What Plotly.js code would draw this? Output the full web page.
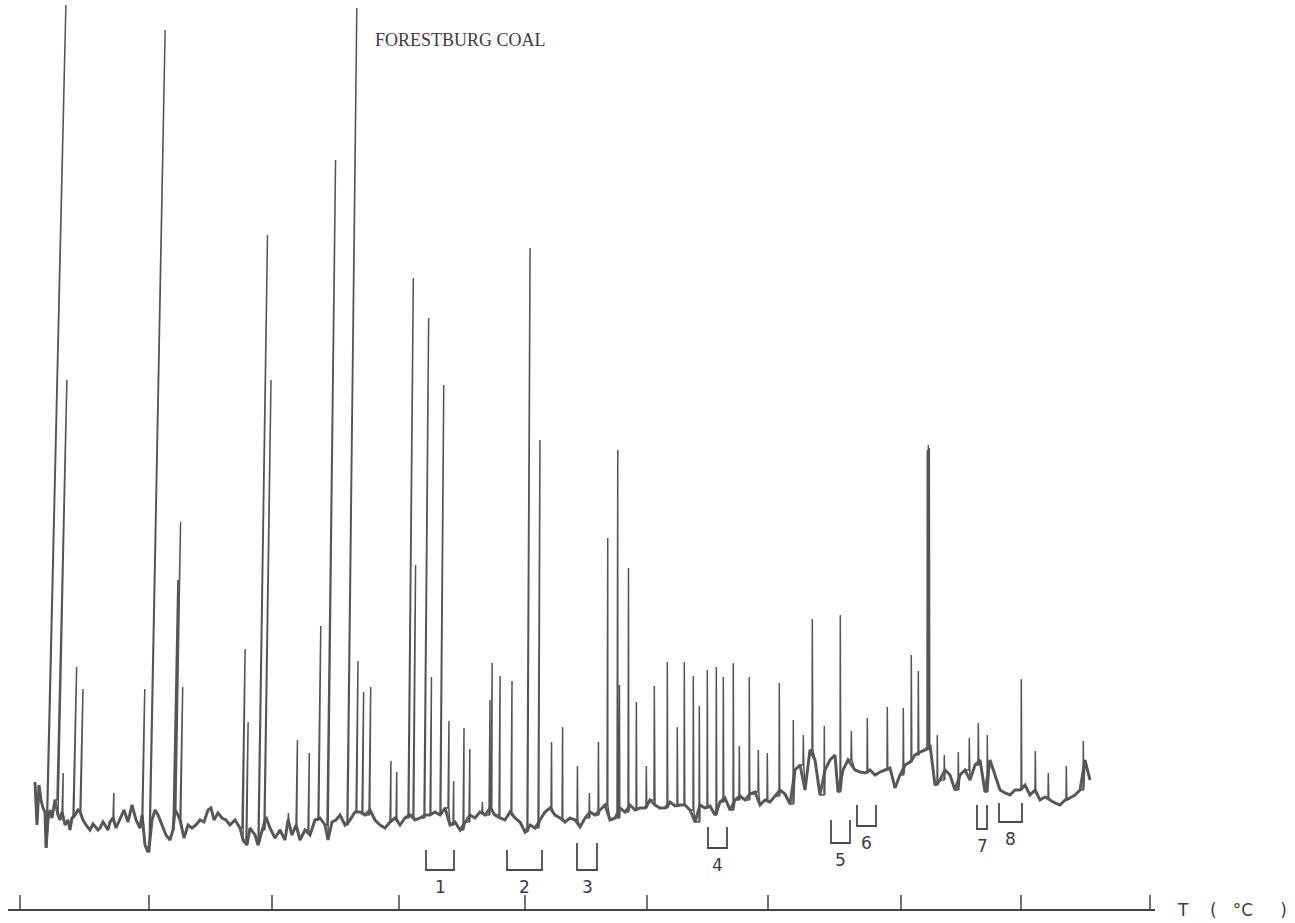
<!DOCTYPE html>
<html>
<head>
<meta charset="utf-8">
<script src="https://cdn.plot.ly/plotly-3.0.1.min.js"></script>
<style>html,body{margin:0;padding:0;background:#fff;}#chart{width:1295px;height:923px;}</style>
</head>
<body>
<div id="chart"></div>
<script>
// ---- DATA ----
const chartTitle = "FORESTBURG COAL";
const axisLabel = "T\u00A0\u00A0\u00A0\u00A0(\u00A0\u00A0\u00A0°C\u00A0\u00A0\u00A0\u00A0\u00A0)";
const tickPositions = [20, 149, 272, 399, 525, 647, 768, 901, 1021, 1150];

// baseline of the recorder trace: position and signal level
const baseX = [35,37,39,41,43,45,46,48,50,52,55,58,60,62,65,68,70,72,75,78,80,83,86,90,93,95,98,100,103,105,108,110,113,116,120,124,128,132,136,140,142,145,148,150,152,155,158,162,166,170,173,175,178,180,184,188,192,196,200,204,208,211,214,218,222,226,230,235,240,243,247,250,255,258,262,266,270,275,280,285,288,292,296,300,305,310,315,320,325,328,332,336,340,345,350,355,360,365,370,375,380,385,390,395,400,405,410,415,420,425,430,435,440,445,450,455,460,465,470,475,480,485,490,495,500,505,510,515,520,525,530,535,540,545,550,555,560,565,570,575,580,585,590,595,600,605,610,615,620,625,630,635,640,645,650,655,660,665,670,675,680,685,690,695,700,705,710,715,720,725,730,735,740,745,750,755,760,765,770,775,780,785,790,795,800,805,810,815,820,825,830,835,838,843,848,855,860,865,870,875,880,885,890,895,900,905,910,915,920,925,930,935,940,945,950,955,960,965,970,975,980,985,990,995,1000,1005,1010,1015,1020,1025,1030,1035,1040,1045,1050,1055,1060,1065,1070,1075,1080,1085,1090];
const baseSignal = [128,85,125,110,102,98,62,90,100,92,110,95,90,98,85,90,80,92,95,100,98,90,85,80,86,84,80,82,88,85,80,88,92,82,92,100,88,105,90,82,95,65,58,70,90,100,95,85,75,70,80,100,95,90,72,85,82,85,90,88,100,102,90,97,92,90,85,90,82,70,65,82,75,65,80,93,82,72,80,70,90,75,85,70,80,75,90,92,85,70,88,90,95,85,90,98,98,95,100,90,85,82,88,92,85,92,95,90,92,95,95,98,95,102,85,88,80,88,95,92,98,95,102,95,92,90,98,92,88,78,85,82,90,98,102,95,92,88,92,90,83,92,98,95,100,105,90,92,102,98,105,100,102,102,110,105,102,102,108,104,105,105,100,88,105,102,104,95,108,112,100,110,114,110,116,118,105,110,108,114,120,116,106,140,145,120,160,150,115,140,150,155,118,140,150,140,138,137,140,135,138,140,142,122,135,145,148,155,158,160,165,125,130,140,135,120,135,140,130,145,150,118,150,135,120,117,115,120,120,125,115,120,110,113,110,107,105,110,112,115,120,150,130];

// peaks: retention position and apex signal level
const peakX = [46,57,62,73,80,113,142,149,173,175,180,242,246,258,264,288,296,308,318,327,347,356,362,369,390,396,408,413,424,430,440,448,453,463,469,482,489,491,499,511,527,538,551,562,577,589,598,607,617,619,628,636,646,654,667,677,684,693,699,707,716,723,733,739,749,758,767,779,793,803,812,824,840,851,867,887,903,911,918,927,928,929,937,944,958,969,978,987,1021,1035,1048,1066,1083];
const peakHeight = [905,530,137,243,221,117,221,880,330,388,223,261,188,675,530,97,170,157,284,750,902,249,218,223,149,138,632,345,592,233,525,189,129,182,161,108,210,247,234,229,662,470,168,183,144,117,168,372,460,225,342,208,144,224,248,183,248,234,204,240,243,233,247,164,233,160,157,227,190,175,291,184,295,179,192,203,202,255,239,460,465,462,175,155,158,172,187,175,231,159,137,144,169];

// marked fractions
const fractionLabels = ["1","2","3","4","5","6","7","8"];
const fractionStart  = [426,507,577,708,831,857,977,999];
const fractionEnd    = [454,542,597,727,850,876,987,1022];
const fractionTop    = [60,60,67,83,90,105,105,107];
const fractionBottom = [40,40,40,62,67,84,81,88];

// ---- BUILD TRACE ----
const ink = "#555555";
function lean(x){ return Math.max(0, 0.025 * (1 - x / 650)); } // recorder pen skew
const tx = [], ty = [];
let p = 0;
for (let i = 0; i < baseX.length; i++) {
  tx.push(baseX[i]); ty.push(baseSignal[i]);
  const next = i + 1 < baseX.length ? baseX[i + 1] : Infinity;
  while (p < peakX.length && peakX[p] >= baseX[i] && peakX[p] < next) {
    const foot = baseSignal[i];
    const h = peakHeight[p] - foot;
    tx.push(peakX[p]); ty.push(foot);
    tx.push(peakX[p] + lean(peakX[p]) * h + 0.3); ty.push(peakHeight[p]);
    tx.push(peakX[p] + 0.8); ty.push(foot);
    p++;
  }
}

const traces = [
  {x: baseX, y: baseSignal, type: "scatter", mode: "lines",
   line: {color: "#5e5e5e", width: 3}, hoverinfo: "skip", showlegend: false},
  {x: tx, y: ty, type: "scatter", mode: "lines",
   line: {color: ink, width: 1.5}, hoverinfo: "skip", showlegend: false}
];

const shapes = [];
shapes.push({type: "line", xref: "x", yref: "y", x0: 8, x1: 1155, y0: 0, y1: 0, line: {color: "#444", width: 1.8}});
tickPositions.forEach(t => {
  shapes.push({type: "line", xref: "x", yref: "y", x0: t, x1: t, y0: 0, y1: 15, line: {color: "#444", width: 1.5}});
});
fractionLabels.forEach((l, i) => {
  const a = fractionStart[i], b = fractionEnd[i], tp = fractionTop[i], bt = fractionBottom[i];
  shapes.push({type: "path", xref: "x", yref: "y",
    path: `M ${a} ${tp} L ${a} ${bt} L ${b} ${bt} L ${b} ${tp}`,
    line: {color: "#4a4a4a", width: 1.8}});
});

const annotations = [];
annotations.push({x: 460, y: 870, xref: "x", yref: "y", text: chartTitle, showarrow: false,
  font: {family: "Liberation Serif, DejaVu Serif, serif", size: 18, color: "#3c3c3c"}});
annotations.push({x: 1175, y: 0, xref: "x", yref: "y", text: axisLabel, showarrow: false, xanchor: "left", yanchor: "middle",
  font: {family: "DejaVu Sans, sans-serif", size: 17, color: "#3c3c3c"}});
fractionLabels.forEach((l, i) => {
  annotations.push({x: (fractionStart[i] + fractionEnd[i]) / 2, y: fractionBottom[i] - 17, xref: "x", yref: "y",
    text: l, showarrow: false, font: {family: "DejaVu Sans, sans-serif", size: 17, color: "#3c3c3c"}});
});

const layout = {
  width: 1295, height: 923,
  margin: {l: 0, r: 0, t: 0, b: 0, pad: 0},
  paper_bgcolor: "#ffffff", plot_bgcolor: "#ffffff",
  xaxis: {range: [0, 1295], visible: false, fixedrange: true},
  yaxis: {range: [-13, 910], visible: false, fixedrange: true},
  shapes: shapes, annotations: annotations, showlegend: false
};
Plotly.newPlot("chart", traces, layout, {displayModeBar: false, staticPlot: true});
</script>
</body>
</html>
